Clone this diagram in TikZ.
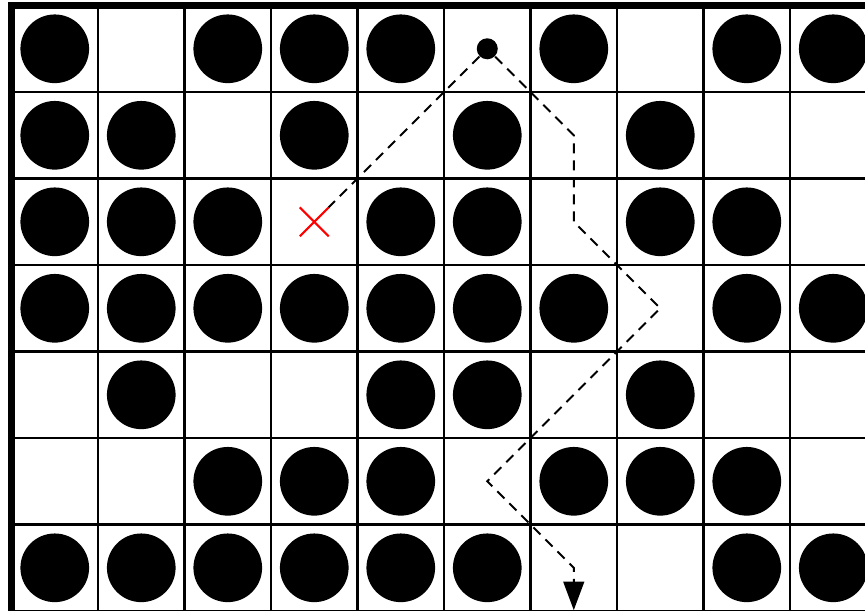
\documentclass[tikz,border=0pt]{standalone}
\usepackage{tikz}
\usetikzlibrary{arrows.meta,shapes.misc}

\begin{document}
\begin{tikzpicture}[
    cell/.style={draw, line width=0.75pt},
    frame/.style={line width=2.3pt},
    stone/.style={circle, fill=black, minimum size=0.794cm, inner sep=0pt},
    pebble/.style={circle, fill=black, minimum size=0.243cm, inner sep=0pt},
    target/.style={cross out, draw=red, line width=0.7pt, minimum size=0.31cm, inner sep=0pt},
    route/.style={dash pattern=on 3.3pt off 2.3pt, line width=0.65pt}
]
    \useasboundingbox (-0.133,-6.988) rectangle (9.867,0.064);
    \clip (-0.133,-6.988) rectangle (9.867,0.064);
    \draw[cell] (0,-7) grid (10,0);
    \draw[frame] (0,-7.2) -- (0,0) -- (10.2,0);
    \foreach \r/\cols in {0/{0,2,3,4,6,8,9}, 1/{0,1,3,5,7}, 2/{0,1,2,4,5,7,8},
        3/{0,1,2,3,4,5,6,8,9}, 4/{1,4,5,7}, 5/{2,3,4,6,7,8}, 6/{0,1,2,3,4,5,8,9}}
        \foreach \c in \cols
            \node[stone] (s-\r-\c) at (\c+0.5,-\r-0.5) {};
    \node[pebble] (start) at (5.5,-0.5) {};
    \node[target] (goal) at (3.5,-2.5) {};
    \coordinate (p1) at (6.5,-1.5);
    \coordinate (p2) at (6.5,-2.5);
    \coordinate (p3) at (7.5,-3.5);
    \coordinate (p4) at (5.5,-5.5);
    \coordinate (p5) at (6.5,-6.5);
    \coordinate (exit) at (6.5,-6.99);
    \draw[route] (start) -- (goal);
    \draw[route, -{Triangle[length=0.33cm, width=0.24cm]}] (start) -- (p1) -- (p2) -- (p3) -- (p4) -- (p5) -- (exit);
\end{tikzpicture}
\end{document}
